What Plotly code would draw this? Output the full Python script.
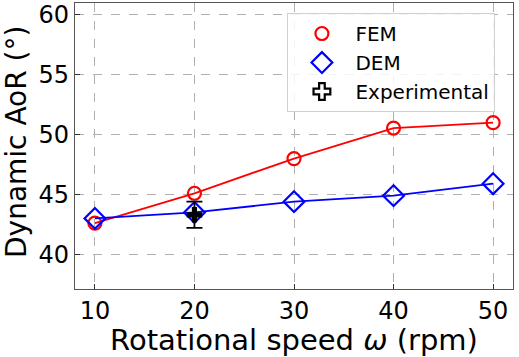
import plotly.graph_objects as go

speed = [10, 20, 30, 40, 50]
fem = [42.6, 45.1, 48.0, 50.55, 51.0]
dem = [43.0, 43.5, 44.4, 44.9, 45.9]
exp_speed = [20]
exp_val = [43.3]
exp_err = [1.1]

x_ticks = [10, 20, 30, 40, 50]
y_ticks = [40, 45, 50, 55, 60]

FONT = "DejaVu Sans"
fig = go.Figure()

fig.add_trace(go.Scatter(x=speed, y=fem, mode="lines+markers", showlegend=False,
                         line=dict(color="#ff0000", width=1.8),
                         marker=dict(symbol="circle-open", size=13, color="#ff0000", line=dict(width=2.2))))
fig.add_trace(go.Scatter(x=speed, y=dem, mode="lines+markers", showlegend=False,
                         line=dict(color="#0000ff", width=1.8),
                         marker=dict(symbol="diamond-open", size=16, color="#0000ff", line=dict(width=2.2))))
fig.add_trace(go.Scatter(x=exp_speed, y=exp_val, mode="markers", showlegend=False,
                         error_y=dict(type="data", array=exp_err, color="black", thickness=1.8, width=8),
                         marker=dict(symbol="cross", size=13, color="black")))

# legend-only entries
fig.add_trace(go.Scatter(x=[None], y=[None], mode="markers", name="FEM",
                         marker=dict(symbol="circle-open", size=13, color="#ff0000", line=dict(width=2.2))))
fig.add_trace(go.Scatter(x=[None], y=[None], mode="markers", name="DEM",
                         marker=dict(symbol="diamond-open", size=16, color="#0000ff", line=dict(width=2.2))))
fig.add_trace(go.Scatter(x=[None], y=[None], mode="markers", name="Experimental",
                         marker=dict(symbol="cross-open", size=14, color="black", line=dict(width=2.2))))

axis_common = dict(showline=True, linecolor="#555555", linewidth=1.2, mirror=True,
                   ticks="inside", ticklen=5, tickcolor="#333333", automargin=False,
                   showgrid=True, gridcolor="#b0b0b0", griddash="dash", gridwidth=1,
                   zeroline=False, tickfont=dict(family=FONT, size=24, color="black"))

fig.update_layout(
    width=519, height=357,
    margin=dict(l=75, r=6, t=3, b=68),
    paper_bgcolor="white", plot_bgcolor="white",
    font=dict(family=FONT, color="black"),
    xaxis=dict(range=[8, 52], tickvals=x_ticks, **axis_common,
               title=dict(text="Rotational speed <i>ω</i> (rpm)", font=dict(family=FONT, size=29), standoff=4)),
    yaxis=dict(range=[37.1, 61], tickvals=y_ticks, **axis_common),
    legend=dict(x=0.485, y=0.965, xanchor="left", yanchor="top",
                bgcolor="rgba(255,255,255,0.85)", bordercolor="#d0d0d0", borderwidth=1,
                font=dict(family=FONT, size=20), itemwidth=57, tracegroupgap=0),
)

fig.add_annotation(text="Dynamic AoR (°)", xref="paper", yref="paper",
                   x=(16 - 75) / 438, y=(289 - 142) / 286, xanchor="center", yanchor="middle",
                   textangle=-90, showarrow=False, borderpad=0,
                   font=dict(family=FONT, size=28, color="black"))

fig.write_html("out.html", config={"displayModeBar": False},
               post_script="document.body.style.margin='0';")
